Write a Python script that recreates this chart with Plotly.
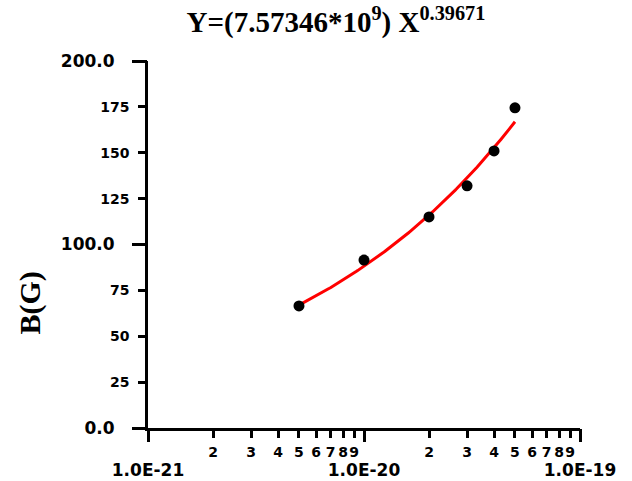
import numpy as np
import plotly.graph_objects as go

# Data
x_data = [5e-21, 1e-20, 2e-20, 3e-20, 4e-20, 5e-20]
y_data = [66.5, 91.5, 115.0, 132.0, 151.0, 174.5]

# Power-law fit parameters (from the title)
fit_a = 7.57346e9
fit_b = 0.39671

x_minor_vals = [m * 10.0 ** e for e in (-21, -20) for m in range(2, 10)]
x_minor_text = [str(m) for e in (-21, -20) for m in range(2, 10)]
x_major_vals = [1e-21, 1e-20, 1e-19]
x_major_text = ["1.0E-21", "1.0E-20", "1.0E-19"]

y_minor_vals = [25, 50, 75, 125, 150, 175]
y_minor_text = ["25", "50", "75", "125", "150", "175"]
y_major_vals = [0, 100, 200]
y_major_text = ["0.0", "100.0", "200.0"]

x_fit = np.logspace(np.log10(min(x_data)), np.log10(max(x_data)), 200)
y_fit = fit_a * x_fit ** fit_b

LBL = "DejaVu Sans"
W = 2.5
FW, FH = 632, 481
L, T = 148, 61
PW, PH = 432, 367

fig = go.Figure()
fig.add_trace(go.Scatter(x=x_fit, y=y_fit, mode="lines",
                         line=dict(color="#ff0000", width=3), hoverinfo="skip",
                         showlegend=False))
fig.add_trace(go.Scatter(x=x_data, y=y_data, mode="markers",
                         marker=dict(color="black", size=11), showlegend=False))
# invisible trace to activate the overlay axes
fig.add_trace(go.Scatter(x=x_data, y=y_data, mode="markers", xaxis="x2", yaxis="y2",
                         marker=dict(opacity=0, size=1), hoverinfo="skip", showlegend=False))

fig.update_layout(
    template="none",
    width=FW, height=FH,
    margin=dict(l=L, r=FW - L - PW, t=T, b=FH - T - PH),
    paper_bgcolor="white", plot_bgcolor="rgba(0,0,0,0)",
    showlegend=False,
    title=dict(text="<b>Y=(7.57346*10<sup>9</sup>) X<sup>0.39671</sup></b>",
               font=dict(family="Liberation Serif", size=29, color="black"),
               x=336 / FW, xanchor="center", xref="container",
               y=1 - 22 / FH, yanchor="middle", yref="container"),
    xaxis=dict(type="log", range=[-21, -19], showgrid=False, zeroline=False,
               showline=True, linecolor="black", linewidth=W,
               ticks="outside", ticklen=7, tickwidth=W, tickcolor="black",
               tickvals=x_minor_vals, ticktext=x_minor_text, ticklabelstandoff=2,
               tickangle=0,
               tickfont=dict(family=LBL, size=14, color="black", weight="bold"),
               automargin=False),
    xaxis2=dict(type="log", range=[-21, -19], overlaying="x", anchor="y2", side="bottom",
                showgrid=False, zeroline=False, showline=False,
                ticks="outside", ticklen=13, tickwidth=W, tickcolor="black",
                tickvals=x_major_vals, ticktext=x_major_text, ticklabelstandoff=14,
                tickangle=0,
                tickfont=dict(family=LBL, size=17, color="black", weight="bold"),
                automargin=False),
    yaxis=dict(range=[0, 200], showgrid=False, zeroline=False,
               showline=True, linecolor="black", linewidth=W,
               ticks="outside", ticklen=7, tickwidth=W, tickcolor="black",
               tickvals=y_minor_vals, ticktext=y_minor_text, ticklabelstandoff=6,
               tickfont=dict(family=LBL, size=14, color="black", weight="bold"),
               automargin=False),
    yaxis2=dict(range=[0, 200], overlaying="y", anchor="x2", side="left",
                showgrid=False, zeroline=False, showline=False,
                ticks="outside", ticklen=15, tickwidth=W, tickcolor="black",
                tickvals=y_major_vals, ticktext=y_major_text, ticklabelstandoff=14,
                tickfont=dict(family=LBL, size=17, color="black", weight="bold"),
                automargin=False),
    annotations=[dict(text="<b>B(G)</b>", textangle=-90,
                      x=(29 - L) / PW, y=(428 - 303.5) / PH,
                      xref="paper", yref="paper", xanchor="center", yanchor="middle",
                      showarrow=False,
                      font=dict(family="Liberation Serif", size=30, color="black"))],
)

fig.write_html("out.html", config={"displayModeBar": False},
               post_script="document.body.style.margin='0';document.body.style.overflow='hidden';")
